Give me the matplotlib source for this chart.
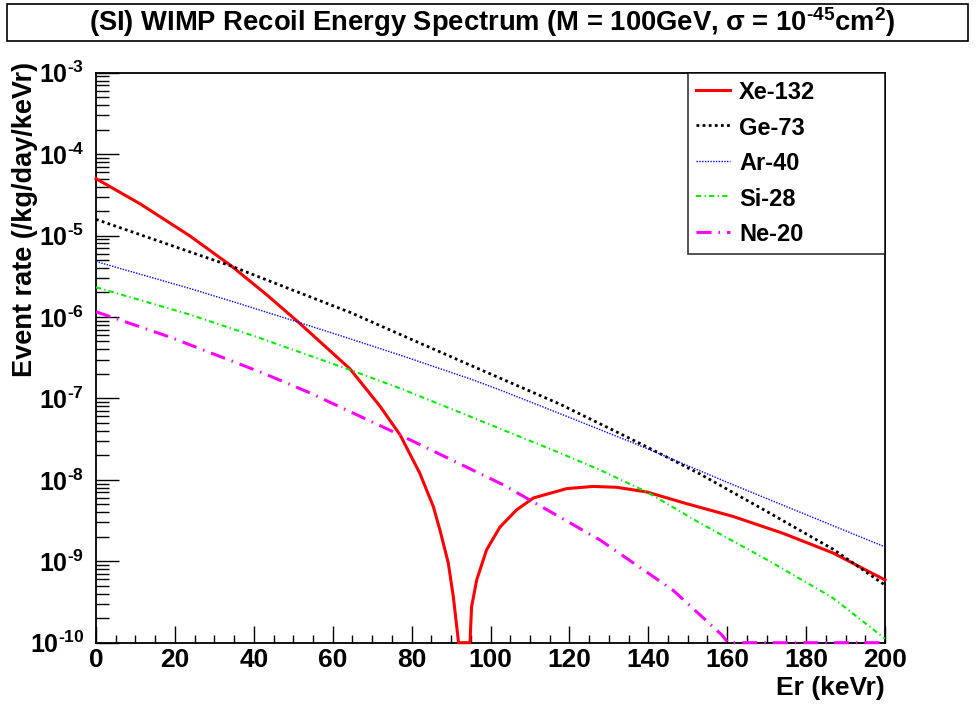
import matplotlib
matplotlib.use("Agg")
import matplotlib.pyplot as plt
from matplotlib.patches import Rectangle
from matplotlib.ticker import FixedLocator, FuncFormatter, MultipleLocator
import numpy as np

plt.rcParams['font.family'] = ['Liberation Sans', 'DejaVu Sans']
plt.rcParams['font.weight'] = 'bold'
plt.rcParams['mathtext.fontset'] = 'custom'
plt.rcParams['mathtext.rm'] = 'Liberation Sans:bold'
plt.rcParams['mathtext.it'] = 'Liberation Sans:bold'
plt.rcParams['mathtext.bf'] = 'Liberation Sans:bold'
plt.rcParams['mathtext.sf'] = 'Liberation Sans:bold'

# ---------------- data ----------------
title = "(SI) WIMP Recoil Energy Spectrum (M = 100GeV, $\\sigma$ = 10$^{\u201045}$cm$^{2}$)"
xlabel = "Er (keVr)"
ylabel = "Event rate (/kg/day/keVr)"

labels = ["Xe-132", "Ge-73", "Ar-40", "Si-28", "Ne-20"]

xe_E = [0, 11.2, 23.8, 34.4, 43.3, 51.7, 64.4, 72.0, 77.1, 82.1, 85.5, 87.2, 89.3,
        90.6, 91.9, 94.8, 95.2, 96.5, 99.0, 102.4, 106.6, 110.9, 119.3, 126.0,
        132.0, 139.6, 149.7, 161.5, 174.2, 186.9, 200]
xe_rate = [5.0e-5, 2.45e-5, 9.9e-6, 4.2e-6, 1.87e-6, 8.3e-7, 2.3e-7, 8.0e-8, 3.55e-8,
           1.2e-8, 4.7e-9, 2.4e-9, 9.5e-10, 3.6e-10, 1.0e-10, 1.0e-10, 2.75e-10,
           5.9e-10, 1.38e-9, 2.63e-9, 4.27e-9, 6.0e-9, 7.8e-9, 8.3e-9, 8.1e-9, 7.1e-9,
           5.1e-9, 3.55e-9, 2.2e-9, 1.26e-9, 5.9e-10]

ge_E = [0, 23.8, 34.4, 49.2, 64.4, 77.1, 94.8, 117.6, 137.9, 153.1, 170, 186.9, 200]
ge_rate = [1.58e-5, 6.3e-6, 4.2e-6, 2.2e-6, 1.14e-6, 6.1e-7, 2.57e-7, 8.5e-8, 2.8e-8,
           1.18e-8, 4.1e-9, 1.4e-9, 5.1e-10]

ar_E = [0, 23.8, 36.5, 51.7, 64.4, 77.1, 94.8, 102.4, 117.6, 137.9, 161.5, 178.5, 200]
ar_rate = [4.8e-6, 2.24e-6, 1.45e-6, 8.5e-7, 5.4e-7, 3.4e-7, 1.74e-7, 1.27e-7, 6.5e-8,
           2.63e-8, 8.7e-9, 4.0e-9, 1.5e-9]

si_E = [0, 23.8, 40.7, 64.4, 77.1, 94.8, 117.6, 127.8, 139.6, 153.1, 170, 186.8, 200]
si_rate = [2.32e-6, 1.07e-6, 5.7e-7, 2.24e-7, 1.33e-7, 6.0e-8, 2.14e-8, 1.32e-8,
           7.1e-9, 2.95e-9, 1.05e-9, 3.55e-10, 1.12e-10]

ne_E = [0, 18.8, 42.4, 54.2, 77.1, 103.2, 127.8, 146.3, 158.6, 160.2, 200]
ne_rate = [1.16e-6, 5.65e-7, 2.04e-7, 1.17e-7, 3.55e-8, 8.7e-9, 1.82e-9, 4.4e-10,
           1.25e-10, 1.0e-10, 1.0e-10]

x_ticks = [0, 20, 40, 60, 80, 100, 120, 140, 160, 180, 200]
y_exponents = [-10, -9, -8, -7, -6, -5, -4, -3]

# ---------------- figure ----------------
fig = plt.figure(figsize=(9.76, 7.09), dpi=100)
W, H = 976, 709
ax = fig.add_axes([96 / W, 1 - 642.7 / H, 789 / W, 570 / H])

series = [
    (xe_E, xe_rate, dict(color='#ff0000', lw=2.2, linestyle='-')),
    (ge_E, ge_rate, dict(color='black', lw=2.0, linestyle=(0, (1, 1.2)))),
    (ar_E, ar_rate, dict(color='#0000ff', lw=1.0, linestyle=(0, (1, 1)))),
    (si_E, si_rate, dict(color='#00ee00', lw=1.5, linestyle=(0, (2.5, 1.6, 0.6, 1.6)))),
    (ne_E, ne_rate, dict(color='#ff00ff', lw=2.2, linestyle=(0, (4.9, 2.3, 0.5, 2.3)))),
]
handles = []
for (E, r, st), lab in zip(series, labels):
    h, = ax.plot(E, r, label=lab, clip_on=False, zorder=3, **st)
    handles.append(h)

ax.set_yscale('log')
ax.set_xlim(0, 200)
ax.set_ylim(1e-10, 1e-3)

ax.xaxis.set_major_locator(FixedLocator(x_ticks))
ax.xaxis.set_minor_locator(MultipleLocator(5))
ax.yaxis.set_major_locator(FixedLocator([10.0 ** e for e in y_exponents]))
ax.yaxis.set_minor_locator(FixedLocator([m * 10.0 ** e for e in y_exponents[:-1] for m in range(2, 10)]))
ax.yaxis.set_major_formatter(FuncFormatter(
    lambda v, p: "$10^{\u2010%d}$" % abs(int(round(np.log10(v))))))
ax.xaxis.set_major_formatter(FuncFormatter(lambda v, p: "%d" % v))

ax.tick_params(axis='both', which='both', direction='in', top=False, right=False,
               color='black', width=1.0)
ax.tick_params(axis='x', which='major', length=12.2, pad=4, labelsize=19)
ax.tick_params(axis='x', which='minor', length=5.8)
ax.tick_params(axis='y', which='major', length=16.6, pad=8.5, labelsize=18)
ax.tick_params(axis='y', which='minor', length=9.0)
ax.yaxis.set_minor_formatter(FuncFormatter(lambda v, p: ""))
for s in ax.spines.values():
    s.set_linewidth(1.3)
    s.set_color('black')

# axis labels
fig.text(885 / W, 1 - 688 / H, xlabel, ha='right', va='center', fontsize=19, fontweight='bold')
fig.text(25 / W, 1 - 62 / H, ylabel, ha='center', va='top', rotation=90, fontsize=19.5,
         fontweight='bold')

# title box
fig.patches.append(Rectangle((7 / W, 1 - 41 / H), 961 / W, 37 / H, transform=fig.transFigure,
                             facecolor='white', edgecolor='black', lw=1.2, zorder=0))
fig.text(492 / W, 1 - 22.5 / H, title, ha='center', va='center', fontsize=19.7,
         fontweight='bold')

# legend
leg = ax.legend(handles=handles, loc='upper left',
                bbox_to_anchor=((688 - 96) / 789, 1.0, (885 - 688) / 789, 0.0),
                mode='expand', borderaxespad=0, frameon=True, fancybox=False,
                edgecolor='black', handlelength=1.45, handletextpad=0.4,
                handleheight=1.02, labelspacing=0.5, borderpad=0.32,
                prop={'weight': 'bold', 'size': 17})
leg.get_frame().set_linewidth(1.2)
leg.set_zorder(5)

fig.savefig("out.png", dpi=100)
